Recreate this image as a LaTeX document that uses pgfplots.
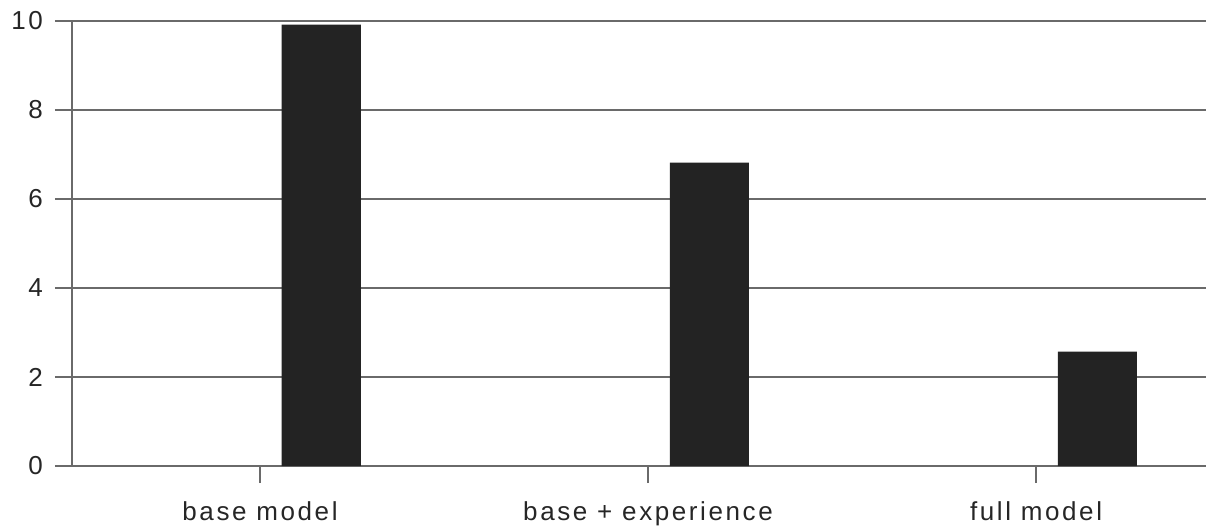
\documentclass[border=0pt]{standalone}
\usepackage{fontspec}
\setmainfont[LetterSpace=10]{Liberation Sans}
\usepackage{pgfplots}
\pgfplotsset{compat=1.18}
\definecolor{barfill}{HTML}{232323}
\definecolor{linegray}{HTML}{6A6A6A}

\begin{document}
\begin{tikzpicture}
\begin{axis}[
  name=ax,
  scale only axis,
  width=567pt, height=222.5pt,
  xmin=-0.4845, xmax=2.438,
  ymin=0, ymax=10,
  ytick={0,2,4,6,8,10},
  xtick={0,1,2},
  xticklabels={base model, base + experience, full model},
  axis x line=bottom, axis y line=left,
  axis line style={-, linegray, line width=0.7pt},
  tick align=outside,
  major tick length=8.5pt,
  tick style={linegray, line width=0.7pt},
  ymajorgrids,
  grid style={linegray, line width=0.7pt},
  /pgf/number format/assume math mode=true,
  ticklabel style={font=\fontsize{13}{15}\selectfont, text=black!85},
  yticklabel style={xshift=-2.5pt},
  xticklabel style={yshift=-6pt},
]
\addplot[ybar, fill=barfill, draw=none, bar width=0.204, bar shift=0.158]
  coordinates {(0,9.92) (1,6.82) (2,2.57)};
\end{axis}
\pgfresetboundingbox
\path ([xshift=-36pt,yshift=-32.5pt]ax.south west) rectangle ([yshift=10.5pt]ax.north east);
\end{tikzpicture}
\end{document}
